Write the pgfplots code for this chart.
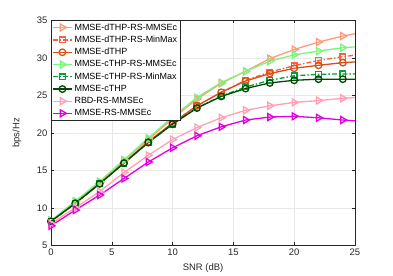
\documentclass[border=0pt]{standalone}
\usepackage{fontspec}
\setmainfont{Liberation Sans}
\usepackage{pgfplots}
\pgfplotsset{compat=1.18}
\definecolor{cSal}{RGB}{255,155,120}
\definecolor{cRed}{RGB}{250,95,65}
\definecolor{cOra}{RGB}{215,80,20}
\definecolor{cLGr}{RGB}{125,245,125}
\definecolor{cGr}{RGB}{0,160,60}
\definecolor{cDGr}{RGB}{0,75,0}
\definecolor{cPink}{RGB}{255,160,180}
\definecolor{cMag}{RGB}{225,0,225}
\definecolor{axc}{RGB}{38,38,38}
\begin{document}
\begin{tikzpicture}
\path[use as bounding box] (-51bp,-30.7bp) rectangle (342bp,245.3bp);
\begin{axis}[
  at={(0,0)}, anchor=south west,
  scale only axis, width=304bp, height=225bp,
  xmin=0, xmax=25, ymin=5, ymax=35,
  xtick={0,5,...,25}, ytick={5,10,...,35},
  grid=major, major grid style={color=black!9, line width=0.5pt},
  axis line style={color=axc, line width=0.5pt},
  tick style={color=axc, line width=0.5pt},
  tick align=inside, major tick length=3bp,
  ticklabel style={font=\fontsize{9.5}{10}\selectfont, color=axc},
  /pgf/number format/assume math mode=true,
  xlabel={SNR (dB)}, ylabel={bps/Hz},
  label style={font=\fontsize{9.5}{10}\selectfont, color=axc},
  xlabel style={at={(axis description cs:0.5,-0.101)}, anchor=center},
  ylabel style={at={(axis description cs:-0.112,0.5)}, anchor=center},
  legend style={at={(0,1)}, anchor=north west, font=\fontsize{9}{10}\selectfont,
    draw=axc, fill=white, inner sep=1bp, row sep=0.4bp, line width=0.5pt},
  legend cell align=left,
  legend image code/.code={\draw[mark indices={2}] plot coordinates {(0bp,0bp)(9.5bp,0bp)(19bp,0bp)};},
  every axis plot/.append style={line width=1.3bp},
  mark indices={1,2,...,13},
]
% MMSE-dTHP-RS-MMSEc
\addplot[color=cSal, mark=triangle, mark size=4bp, mark options={rotate=-90, solid, fill=none}] coordinates {
(0,8.3)(2,10.8)(4,13.4)(6,16.3)(8,19.1)(10,21.9)(12,24.5)(14,26.6)(16,28.2)(18,29.9)(20,31.1)(22,32.1)(24,32.9)(25,33.2)};
\addlegendentry{MMSE-dTHP-RS-MMSEc}
% MMSE-dTHP-RS-MinMax
\addplot[color=cRed, dash pattern=on 5bp off 2bp on 1.5bp off 2bp, mark=square, mark size=2.8bp, mark options={solid, fill=none}] coordinates {
(0,8.2)(2,10.6)(4,13.25)(6,16.0)(8,18.8)(10,21.3)(12,23.6)(14,25.4)(16,27.0)(18,28.1)(20,28.95)(22,29.65)(24,30.15)(25,30.35)};
\addlegendentry{MMSE-dTHP-RS-MinMax}
% MMSE-dTHP
\addplot[color=cOra, mark=o, mark size=3.3bp, mark options={solid, fill=none}] coordinates {
(0,8.2)(2,10.6)(4,13.25)(6,16.0)(8,18.8)(10,21.3)(12,23.6)(14,25.4)(16,26.9)(18,27.9)(20,28.6)(22,29.0)(24,29.35)(25,29.45)};
\addlegendentry{MMSE-dTHP}
% MMSE-cTHP-RS-MMSEc
\addplot[color=cLGr, mark=triangle, mark size=4bp, mark options={rotate=-90, solid, fill=none}] coordinates {
(0,8.3)(2,10.9)(4,13.5)(6,16.4)(8,19.3)(10,22.1)(12,24.7)(14,26.7)(16,28.2)(18,29.55)(20,30.4)(22,30.9)(24,31.35)(25,31.45)};
\addlegendentry{MMSE-cTHP-RS-MMSEc}
% MMSE-cTHP-RS-MinMax
\addplot[color=cGr, dash pattern=on 5bp off 2bp on 1.5bp off 2bp, mark=square, mark size=2.8bp, mark options={solid, fill=none}] coordinates {
(0,8.2)(2,10.6)(4,13.2)(6,15.95)(8,18.7)(10,21.15)(12,23.3)(14,24.9)(16,26.1)(18,27.0)(20,27.6)(22,27.8)(24,27.85)(25,27.85)};
\addlegendentry{MMSE-cTHP-RS-MinMax}
% MMSE-cTHP
\addplot[color=cDGr, mark=o, mark size=3.3bp, mark options={solid, fill=none}] coordinates {
(0,8.2)(2,10.6)(4,13.2)(6,15.95)(8,18.7)(10,21.15)(12,23.3)(14,24.85)(16,25.9)(18,26.65)(20,27.0)(22,27.15)(24,27.15)(25,27.15)};
\addlegendentry{MMSE-cTHP}
% RBD-RS-MMSEc
\addplot[color=cPink, mark=triangle, mark size=4bp, mark options={rotate=-90, solid, fill=none}] coordinates {
(0,7.9)(2,10.0)(4,12.15)(6,14.7)(8,17.0)(10,19.1)(12,20.7)(14,22.0)(16,23.0)(18,23.6)(20,24.05)(22,24.3)(24,24.6)(25,24.7)};
\addlegendentry{RBD-RS-MMSEc}
% MMSE-RS-MMSEc
\addplot[color=cMag, mark=triangle, mark size=4bp, mark options={rotate=-90, solid, fill=none}] coordinates {
(0,7.6)(2,9.7)(4,11.7)(6,13.9)(8,16.1)(10,18.0)(12,19.6)(14,20.8)(16,21.7)(18,22.1)(20,22.2)(22,22.0)(24,21.7)(25,21.6)};
\addlegendentry{MMSE-RS-MMSEc}
\end{axis}
\end{tikzpicture}
\end{document}
